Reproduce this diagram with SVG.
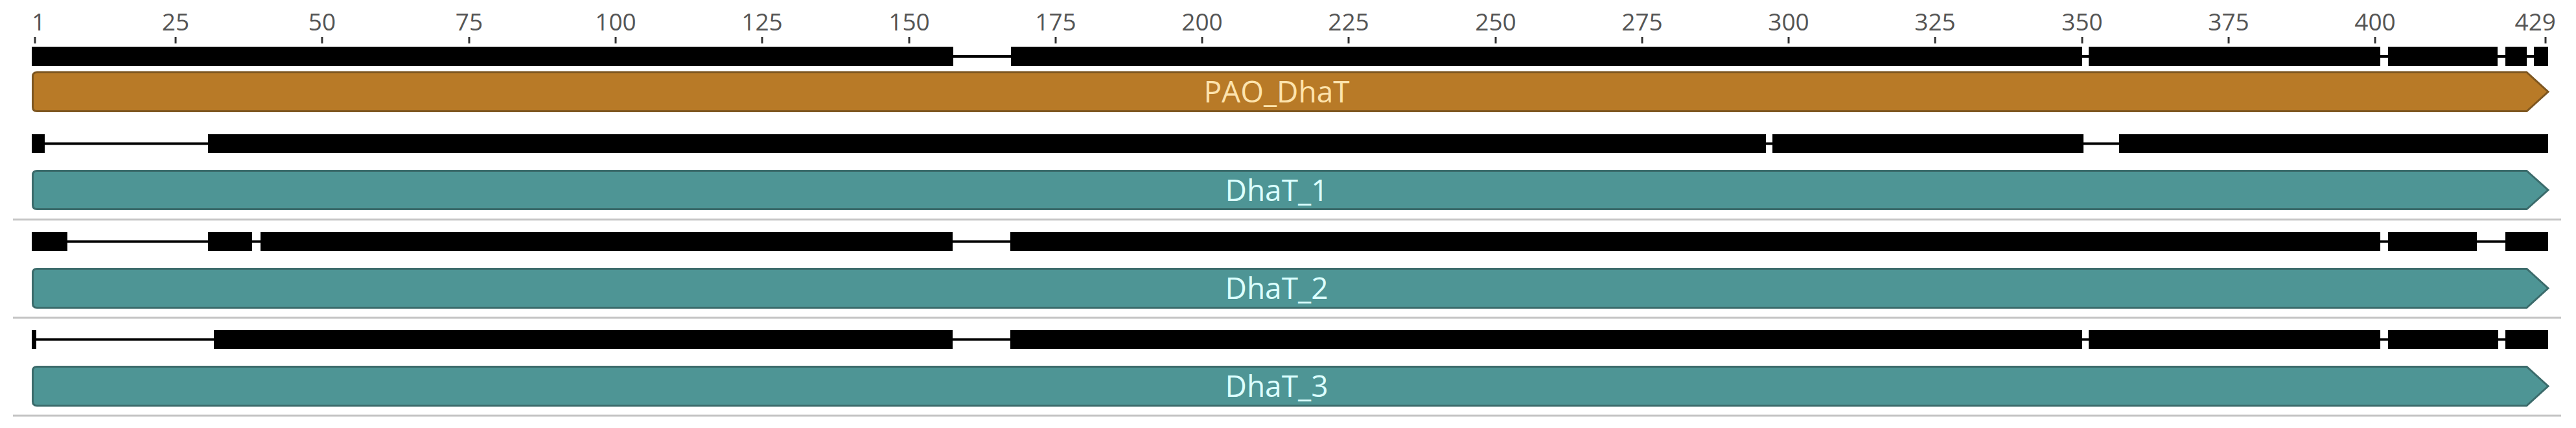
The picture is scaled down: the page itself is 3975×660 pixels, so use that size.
<svg xmlns="http://www.w3.org/2000/svg" width="3975" height="660" viewBox="0 0 3975 660">
<style>
.lbl{font-family:"Open Sans","Noto Sans","Liberation Sans",sans-serif;font-size:37px;fill:#555555;text-anchor:middle}
.tick{stroke:#333333;stroke-width:3}
.bar{fill:#000000}
.gap{stroke:#000000;stroke-width:4}
.sep{stroke:#c4c4c4;stroke-width:3}
.orange{fill:#b87a27;stroke:#7d5620;stroke-width:3}
.teal{fill:#4e9595;stroke:#3b6b6b;stroke-width:3}
.tx{font-family:"Open Sans","Noto Sans","Liberation Sans",sans-serif;font-size:46px;text-anchor:middle}
.txo{fill:#fde3ad}
.txt{fill:#dcffff}
</style>
<rect width="3975" height="660" fill="#ffffff"/>
<g id="ruler">
<text class="lbl" x="49" y="47" style="text-anchor:start">1</text>
<text class="lbl" x="271" y="47">25</text>
<text class="lbl" x="497" y="47">50</text>
<text class="lbl" x="724" y="47">75</text>
<text class="lbl" x="950" y="47">100</text>
<text class="lbl" x="1176" y="47">125</text>
<text class="lbl" x="1403" y="47">150</text>
<text class="lbl" x="1629" y="47">175</text>
<text class="lbl" x="1855" y="47">200</text>
<text class="lbl" x="2081" y="47">225</text>
<text class="lbl" x="2308" y="47">250</text>
<text class="lbl" x="2534" y="47">275</text>
<text class="lbl" x="2760" y="47">300</text>
<text class="lbl" x="2986" y="47">325</text>
<text class="lbl" x="3213" y="47">350</text>
<text class="lbl" x="3439" y="47">375</text>
<text class="lbl" x="3665" y="47">400</text>
<text class="lbl" x="3944" y="47" style="text-anchor:end">429</text>
<g class="tick">
<line x1="54" y1="57" x2="54" y2="67"/>
<line x1="271" y1="57" x2="271" y2="67"/>
<line x1="497" y1="57" x2="497" y2="67"/>
<line x1="724" y1="57" x2="724" y2="67"/>
<line x1="950" y1="57" x2="950" y2="67"/>
<line x1="1176" y1="57" x2="1176" y2="67"/>
<line x1="1403" y1="57" x2="1403" y2="67"/>
<line x1="1629" y1="57" x2="1629" y2="67"/>
<line x1="1855" y1="57" x2="1855" y2="67"/>
<line x1="2081" y1="57" x2="2081" y2="67"/>
<line x1="2308" y1="57" x2="2308" y2="67"/>
<line x1="2534" y1="57" x2="2534" y2="67"/>
<line x1="2760" y1="57" x2="2760" y2="67"/>
<line x1="2986" y1="57" x2="2986" y2="67"/>
<line x1="3213" y1="57" x2="3213" y2="67"/>
<line x1="3439" y1="57" x2="3439" y2="67"/>
<line x1="3665" y1="57" x2="3665" y2="67"/>
<line x1="3928" y1="57" x2="3928" y2="67"/>
</g>
</g>
<g id="coverage1">
<line class="gap" x1="49" y1="87" x2="3932" y2="87"/>
<rect class="bar" x="49" y="72" width="1422" height="30"/>
<rect class="bar" x="1560" y="72" width="1653" height="30"/>
<rect class="bar" x="3223" y="72" width="450" height="30"/>
<rect class="bar" x="3685" y="72" width="169" height="30"/>
<rect class="bar" x="3866" y="72" width="33" height="30"/>
<rect class="bar" x="3910" y="72" width="22" height="30"/>
</g>
<g id="PAO_DhaT">
<path class="orange" d="M57,111.5 H3899 L3932,141.5 L3899,171.5 H57 Q50.5,171.5 50.5,165 V118 Q50.5,111.5 57,111.5 Z"/>
<text class="tx txo" x="1970" y="158">PAO_DhaT</text>
</g>
<g id="coverage2">
<line class="gap" x1="49" y1="221.5" x2="3932" y2="221.5"/>
<rect class="bar" x="49" y="207" width="20" height="29"/>
<rect class="bar" x="321" y="207" width="2404" height="29"/>
<rect class="bar" x="2735" y="207" width="480" height="29"/>
<rect class="bar" x="3270" y="207" width="662" height="29"/>
</g>
<g id="DhaT_1">
<path class="teal" d="M57,263.5 H3899 L3932,293 L3899,322.5 H57 Q50.5,322.5 50.5,316 V270 Q50.5,263.5 57,263.5 Z"/>
<text class="tx txt" x="1970" y="310">DhaT_1</text>
</g>
<line class="sep" x1="20" y1="338.5" x2="3952" y2="338.5"/>
<g id="coverage3">
<line class="gap" x1="49" y1="372.5" x2="3932" y2="372.5"/>
<rect class="bar" x="49" y="358" width="55" height="29"/>
<rect class="bar" x="321" y="358" width="68" height="29"/>
<rect class="bar" x="402" y="358" width="1068" height="29"/>
<rect class="bar" x="1559" y="358" width="2114" height="29"/>
<rect class="bar" x="3685" y="358" width="137" height="29"/>
<rect class="bar" x="3866" y="358" width="66" height="29"/>
</g>
<g id="DhaT_2">
<path class="teal" d="M57,414.5 H3899 L3932,444.5 L3899,474.5 H57 Q50.5,474.5 50.5,468 V421 Q50.5,414.5 57,414.5 Z"/>
<text class="tx txt" x="1970" y="461">DhaT_2</text>
</g>
<line class="sep" x1="20" y1="490" x2="3952" y2="490"/>
<g id="coverage4">
<line class="gap" x1="49" y1="523.5" x2="3932" y2="523.5"/>
<rect class="bar" x="49" y="509" width="7" height="29"/>
<rect class="bar" x="330" y="509" width="1140" height="29"/>
<rect class="bar" x="1559" y="509" width="1654" height="29"/>
<rect class="bar" x="3223" y="509" width="450" height="29"/>
<rect class="bar" x="3685" y="509" width="170" height="29"/>
<rect class="bar" x="3866" y="509" width="66" height="29"/>
</g>
<g id="DhaT_3">
<path class="teal" d="M57,565.5 H3899 L3932,595.5 L3899,625.5 H57 Q50.5,625.5 50.5,619 V572 Q50.5,565.5 57,565.5 Z"/>
<text class="tx txt" x="1970" y="612">DhaT_3</text>
</g>
<line class="sep" x1="20" y1="641" x2="3952" y2="641"/>
<g id="connectors"></g>
</svg>
